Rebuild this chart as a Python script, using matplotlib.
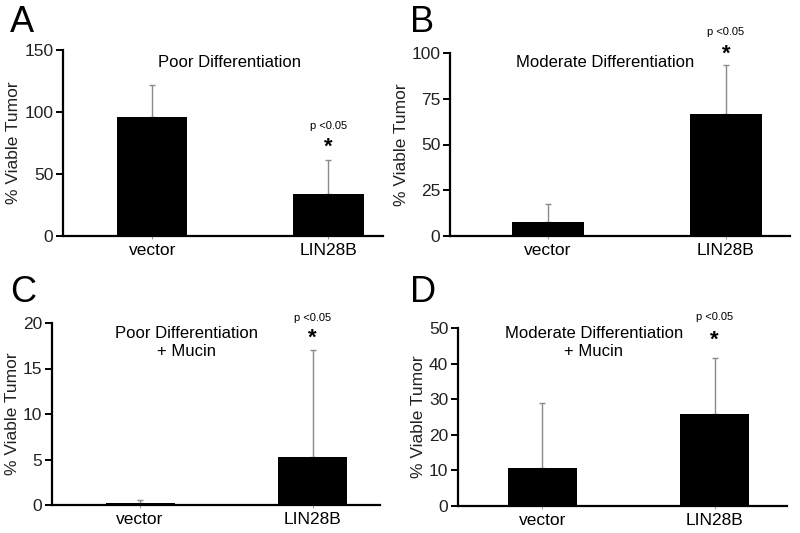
import matplotlib
matplotlib.use("Agg")
import matplotlib.pyplot as plt
import numpy as np

plt.rcParams['font.family'] = ['Liberation Sans', 'DejaVu Sans']

groups = ['vector', 'LIN28B']

# mean % viable tumor and upper SD
poor_mean = [96, 34]
poor_sd = [26, 27]
mod_mean = [7.8, 66.5]
mod_sd = [9.7, 27]
poor_muc_mean = [0.25, 5.3]
poor_muc_sd = [0.25, 11.7]
mod_muc_mean = [10.7, 25.8]
mod_muc_sd = [18.3, 15.9]

titles = ['Poor Differentiation', 'Moderate Differentiation',
          'Poor Differentiation\n+ Mucin', 'Moderate Differentiation\n+ Mucin']
letters = ['A', 'B', 'C', 'D']
yticks = [[0, 50, 100, 150], [0, 25, 50, 75, 100],
          [0, 5, 10, 15, 20], [0, 10, 20, 30, 40, 50]]

W, H = 800, 533
# axes boxes in pixels: left, right, y of zero, y of top tick
boxes = [(63, 383, 236, 50), (450, 790, 236, 53),
         (52, 380, 505, 323), (458, 787, 506, 328)]
xlims = [(-0.506, 1.31), (-0.55, 1.36), (-0.51, 1.39), (-0.49, 1.42)]
title_pos = [(0.52, 0.935), (0.456, 0.95), (0.41, 0.895), (0.413, 0.92)]
pval_y = [(89, 72), (111.5, 99.5), (20.6, 18.3), (53, 46.5)]
letter_pos = [(10, 32), (410, 32), (10, 302), (410, 302)]

data = [(poor_mean, poor_sd), (mod_mean, mod_sd),
        (poor_muc_mean, poor_muc_sd), (mod_muc_mean, mod_muc_sd)]

fig = plt.figure(figsize=(8, 5.33), dpi=100)

for i, (means, sds) in enumerate(data):
    l, r, y0, yt = boxes[i]
    ax = fig.add_axes([l / W, 1 - y0 / H, (r - l) / W, (y0 - yt) / H])
    x = np.arange(len(groups))
    ax.bar(x, means, width=0.4, color='black', zorder=3)
    ax.errorbar(x, means, yerr=[np.zeros(len(sds)), sds], fmt='none',
                ecolor='#8a8a8a', elinewidth=1, capsize=2, capthick=1, zorder=2)
    ax.set_xlim(*xlims[i])
    ax.set_ylim(0, yticks[i][-1])
    ax.set_yticks(yticks[i])
    ax.set_xticks(x)
    ax.set_xticklabels(groups)
    for s in ['top', 'right']:
        ax.spines[s].set_visible(False)
    for s in ['left', 'bottom']:
        ax.spines[s].set_linewidth(1.6)
    ax.tick_params(axis='y', length=5, width=1.4, labelsize=12.5, pad=2,
                   labelcolor='#222222')
    ax.tick_params(axis='x', length=2, width=0.6, colors='#888888',
                   labelcolor='black', labelsize=12.5, pad=3)
    ax.set_ylabel('% Viable Tumor', fontsize=12.5, labelpad=2, color='#222222')
    ax.text(title_pos[i][0], title_pos[i][1], titles[i], transform=ax.transAxes,
            ha='center', va='center', fontsize=12, linespacing=1.25)
    py, sy = pval_y[i]
    ax.text(1, py, 'p <0.05', ha='center', va='center', fontsize=8, clip_on=False)
    ax.text(1, sy, '*', ha='center', va='center', fontsize=16,
            fontweight='bold', clip_on=False)
    fig.text(letter_pos[i][0] / W, 1 - letter_pos[i][1] / H, letters[i],
             fontsize=26, ha='left', va='baseline')

fig.savefig('out.png', dpi=100)
